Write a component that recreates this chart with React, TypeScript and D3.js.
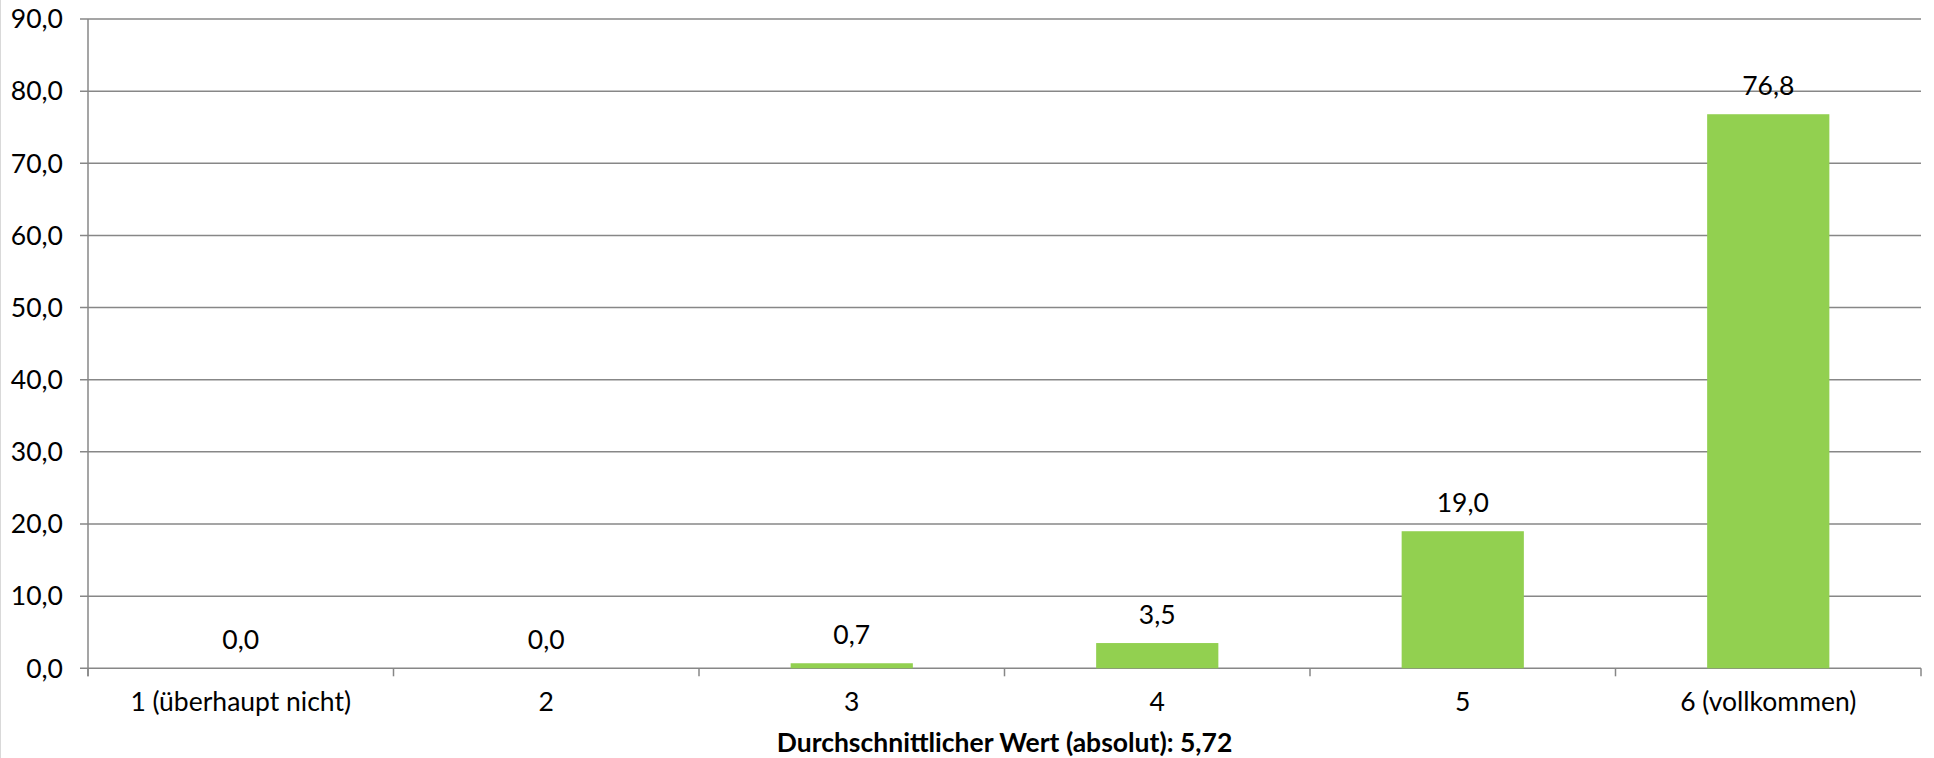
import React from "react";
import * as d3 from "d3";

const categories = ["1 (überhaupt nicht)", "2", "3", "4", "5", "6 (vollkommen)"];
const values = [0.0, 0.0, 0.7, 3.5, 19.0, 76.8];
const yTicks = [0, 10, 20, 30, 40, 50, 60, 70, 80, 90];
const xTitle = "Durchschnittlicher Wert (absolut): 5,72";

const W = 1934;
const H = 758;
const FONT = "Lato, 'Open Sans', sans-serif";
const FS = 26.5;
const fmt = (v: number) => v.toFixed(1).replace(".", ",");

export default function App() {
  const left = 88;
  const right = 1921;
  const top = 19;
  const bottom = 668.3;
  const x = d3.scaleBand<string>().domain(categories).range([left, right]).paddingInner(0.6).paddingOuter(0.3);
  const y = d3.scaleLinear().domain([0, 90]).range([bottom, top]);
  const step = x.step();
  const gridColor = "#878787";
  const tickEdges = d3.range(categories.length + 1).map((i) => left + i * step);

  return (
    <svg width={W} height={H} style={{ position: "absolute", left: 0, top: 0, background: "#fff" }} fontFamily={FONT}>
      <rect x={0} y={0} width={W} height={H} fill="#fff" />
      <line x1={0.5} x2={0.5} y1={0} y2={H} stroke="#d9d9d9" strokeWidth={1} />
      {yTicks.map((t) => (
        <g key={t}>
          <line x1={left - 8} x2={right} y1={y(t)} y2={y(t)} stroke={gridColor} strokeWidth={1.5} />
          <text x={63} y={y(t)} dy="0.35em" textAnchor="end" fontSize={FS} fill="#000">
            {fmt(t)}
          </text>
        </g>
      ))}
      <line x1={left} x2={left} y1={top} y2={bottom + 8} stroke={gridColor} strokeWidth={1.5} />
      {tickEdges.map((tx, i) => (
        <line key={i} x1={tx} x2={tx} y1={bottom} y2={bottom + 8} stroke={gridColor} strokeWidth={1.5} />
      ))}
      {categories.map((c, i) => (
        <g key={c}>
          <rect
            x={x(c)!}
            y={y(values[i])}
            width={x.bandwidth()}
            height={bottom - y(values[i])}
            fill="#92D050"
          />
          <text x={x(c)! + x.bandwidth() / 2} y={y(values[i]) - 19} textAnchor="middle" fontSize={FS} fill="#000">
            {fmt(values[i])}
          </text>
          <text x={x(c)! + x.bandwidth() / 2} y={710.7} textAnchor="middle" fontSize={FS} fill="#000">
            {c}
          </text>
        </g>
      ))}
      <text x={(left + right) / 2} y={751.5} textAnchor="middle" fontSize={FS} fontWeight="bold" fill="#000">
        {xTitle}
      </text>
    </svg>
  );
}
